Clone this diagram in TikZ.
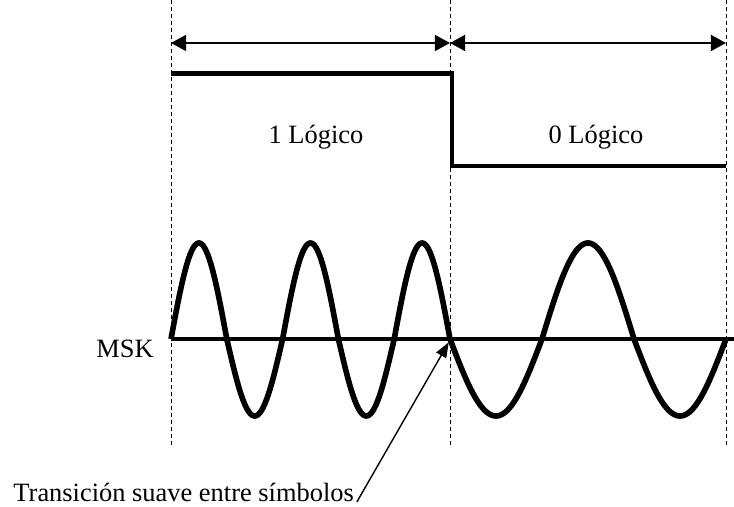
\documentclass[tikz,border=0pt]{standalone}
\usepackage{fontspec}
\setmainfont{Liberation Serif}
\usetikzlibrary{arrows.meta}
\begin{document}
\begin{tikzpicture}[
  font=\fontsize{18.8}{22}\selectfont,
  guide/.style={dash pattern=on 0.1cm off 0.075cm, line width=0.7pt},
  span/.style={{Triangle[length=0.38cm,width=0.4cm]}-{Triangle[length=0.38cm,width=0.4cm]}, line width=1.5pt},
  level/.style={line width=3.5pt, line join=miter},
  wave/.style={line width=4pt, line join=round}]
\useasboundingbox (0,0) rectangle (18.35,12.675);
\foreach \x/\n in {4.275/a,11.25/b,18.15/c} {
  \draw[guide] (\x,12.675) -- (\x,1.55);
  \coordinate (\n) at (\x,11.6);
}
\draw[span] (a) -- (b);
\draw[span] (b) -- (c);
\draw[level] (4.275,10.84) -- (11.3,10.84) -- (11.3,8.525) -- (18.15,8.525);
\node (uno) at (7.9,9.25) {1 Lógico};
\node (cero) at (14.9,9.25) {0 Lógico};
\draw[line width=2.8pt] (4.275,4.2) -- (18.35,4.2);
\node[anchor=east, inner sep=0pt] (msk) at (3.85,3.95) {MSK};
\draw[wave] plot[domain=4.275:11.25, samples=250]
  (\x,{4.2 + (sin(900*(\x-4.275)/6.975) > 0 ? 2.4 : 1.925)*sin(900*(\x-4.275)/6.975)})
  -- plot[domain=11.25:18.15, samples=200]
  (\x,{4.2 + (sin(900+540*(\x-11.25)/6.9) > 0 ? 2.4 : 1.925)*sin(900+540*(\x-11.25)/6.9)});
\node[anchor=base west, inner sep=0pt] (suave) at (0.33,0.13) {Transición suave entre símbolos};
\coordinate (cruce) at (11.22,4.12);
\draw[-{Triangle[length=0.38cm,width=0.28cm]}, line width=1pt] ([xshift=2pt]suave.base east) -- (cruce);
\end{tikzpicture}
\end{document}
